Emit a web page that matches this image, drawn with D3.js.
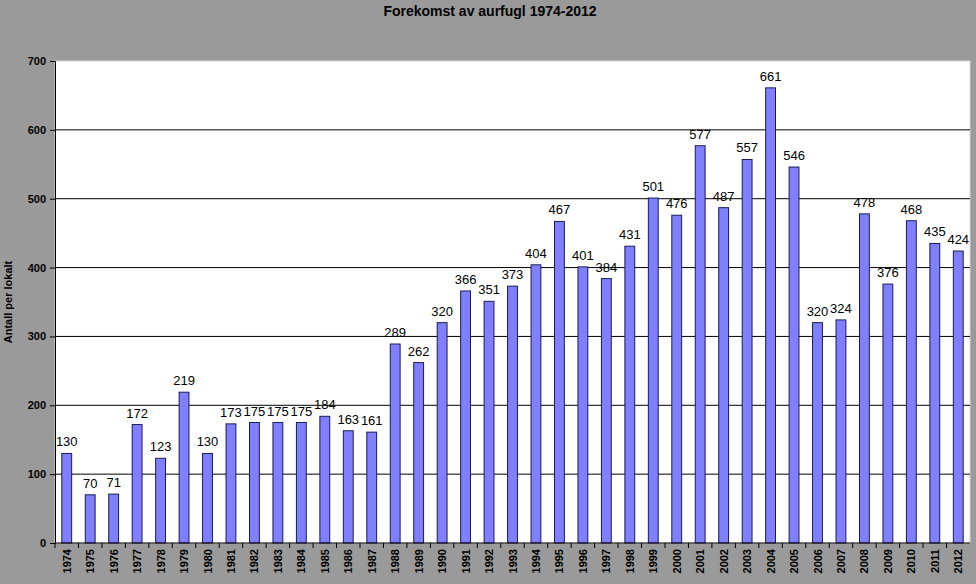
<!DOCTYPE html>
<html>
<head>
<meta charset="utf-8">
<script src="https://cdn.jsdelivr.net/npm/d3@7"></script>
<style>
  body { margin: 0; background: #999999; }
  svg { display: block; }
</style>
</head>
<body>
<svg id="chart"></svg>
<script>
const years = ['1974','1975','1976','1977','1978','1979','1980','1981','1982','1983','1984','1985','1986','1987','1988','1989','1990','1991','1992','1993','1994','1995','1996','1997','1998','1999','2000','2001','2002','2003','2004','2005','2006','2007','2008','2009','2010','2011','2012'];
const counts = [130,70,71,172,123,219,130,173,175,175,175,184,163,161,289,262,320,366,351,373,404,467,401,384,431,501,476,577,487,557,661,546,320,324,478,376,468,435,424];
const yTicks = [0,100,200,300,400,500,600,700];

const w = 976, h = 584;
const margin = { top: 61, right: 6, bottom: 41, left: 55 };

const svg = d3.select('#chart').attr('width', w).attr('height', h);

svg.append('rect').attr('width', w).attr('height', h).attr('fill', '#9a9a9a');

const xScale = d3.scaleBand()
    .domain(years)
    .range([margin.left, w - margin.right])
    .paddingInner(0.58)
    .paddingOuter(0.29);
const yScale = d3.scaleLinear()
    .domain([0, 700])
    .range([h - margin.bottom, margin.top]);

// plot area
svg.append('rect')
    .attr('x', margin.left)
    .attr('y', margin.top)
    .attr('width', w - margin.right - margin.left)
    .attr('height', h - margin.bottom - margin.top)
    .attr('fill', '#ffffff')
    .attr('stroke', '#d8d8d8');

// grid lines
svg.append('g')
    .selectAll('line')
    .data(yTicks.filter(d => d > 0 && d < 700))
    .enter()
    .append('line')
    .attr('x1', margin.left)
    .attr('x2', w - margin.right)
    .attr('y1', d => yScale(d))
    .attr('y2', d => yScale(d))
    .attr('stroke', '#000')
    .attr('stroke-width', 1);

// bars
svg.append('g')
    .selectAll('rect')
    .data(counts)
    .enter()
    .append('rect')
    .attr('x', (d, i) => xScale(years[i]))
    .attr('y', d => yScale(d))
    .attr('width', xScale.bandwidth())
    .attr('height', d => yScale(0) - yScale(d))
    .attr('fill', '#8080ff')
    .attr('stroke', '#1a1a5a')
    .attr('stroke-width', 1);

// value labels
svg.append('g')
    .selectAll('text')
    .data(counts)
    .enter()
    .append('text')
    .attr('x', (d, i) => xScale(years[i]) + xScale.bandwidth() / 2)
    .attr('y', d => yScale(d) - 7)
    .attr('text-anchor', 'middle')
    .style('font-family', 'Liberation Sans, Arial, sans-serif')
    .style('font-size', '13px')
    .attr('fill', '#000')
    .text(d => d);

// y axis
const yAxis = d3.axisLeft(yScale)
    .tickValues(yTicks)
    .tickSize(5)
    .tickPadding(4);
svg.append('g')
    .attr('transform', `translate(${margin.left},0)`)
    .call(yAxis)
    .call(g => g.selectAll('text')
        .style('font-family', 'Liberation Sans, Arial, sans-serif')
        .style('font-size', '11px')
        .style('font-weight', 'bold')
        .attr('fill', '#000'))
    .call(g => g.selectAll('line').attr('stroke', '#000'))
    .call(g => g.select('.domain').attr('stroke', '#000'));

// x axis: ticks between categories
const xAxisY = yScale(0);
svg.append('line')
    .attr('x1', margin.left)
    .attr('x2', w - margin.right)
    .attr('y1', xAxisY)
    .attr('y2', xAxisY)
    .attr('stroke', '#000');

const step = xScale.step();
svg.append('g')
    .selectAll('line')
    .data(years)
    .enter()
    .append('line')
    .attr('x1', d => xScale(d) - (step - xScale.bandwidth()) / 2)
    .attr('x2', d => xScale(d) - (step - xScale.bandwidth()) / 2)
    .attr('y1', xAxisY)
    .attr('y2', xAxisY + 5)
    .attr('stroke', '#000');

svg.append('g')
    .selectAll('text')
    .data(years)
    .enter()
    .append('text')
    .attr('transform', d => `translate(${xScale(d) + xScale.bandwidth() / 2 + 4},${xAxisY + 6}) rotate(-90)`)
    .attr('text-anchor', 'end')
    .style('font-family', 'Liberation Sans, Arial, sans-serif')
    .style('font-size', '11px')
    .style('font-weight', 'bold')
    .attr('fill', '#000')
    .text(d => d);

// title
svg.append('text')
    .attr('x', 490)
    .attr('y', 16)
    .attr('text-anchor', 'middle')
    .style('font-family', 'Liberation Sans, Arial, sans-serif')
    .style('font-size', '14px')
    .style('font-weight', 'bold')
    .attr('fill', '#000')
    .text('Forekomst av aurfugl 1974-2012');

// y label
svg.append('text')
    .attr('transform', `translate(12,${(margin.top + h - margin.bottom) / 2}) rotate(-90)`)
    .attr('text-anchor', 'middle')
    .style('font-family', 'Liberation Sans, Arial, sans-serif')
    .style('font-size', '11px')
    .style('font-weight', 'bold')
    .attr('fill', '#000')
    .text('Antall per lokalt');
</script>
</body>
</html>
